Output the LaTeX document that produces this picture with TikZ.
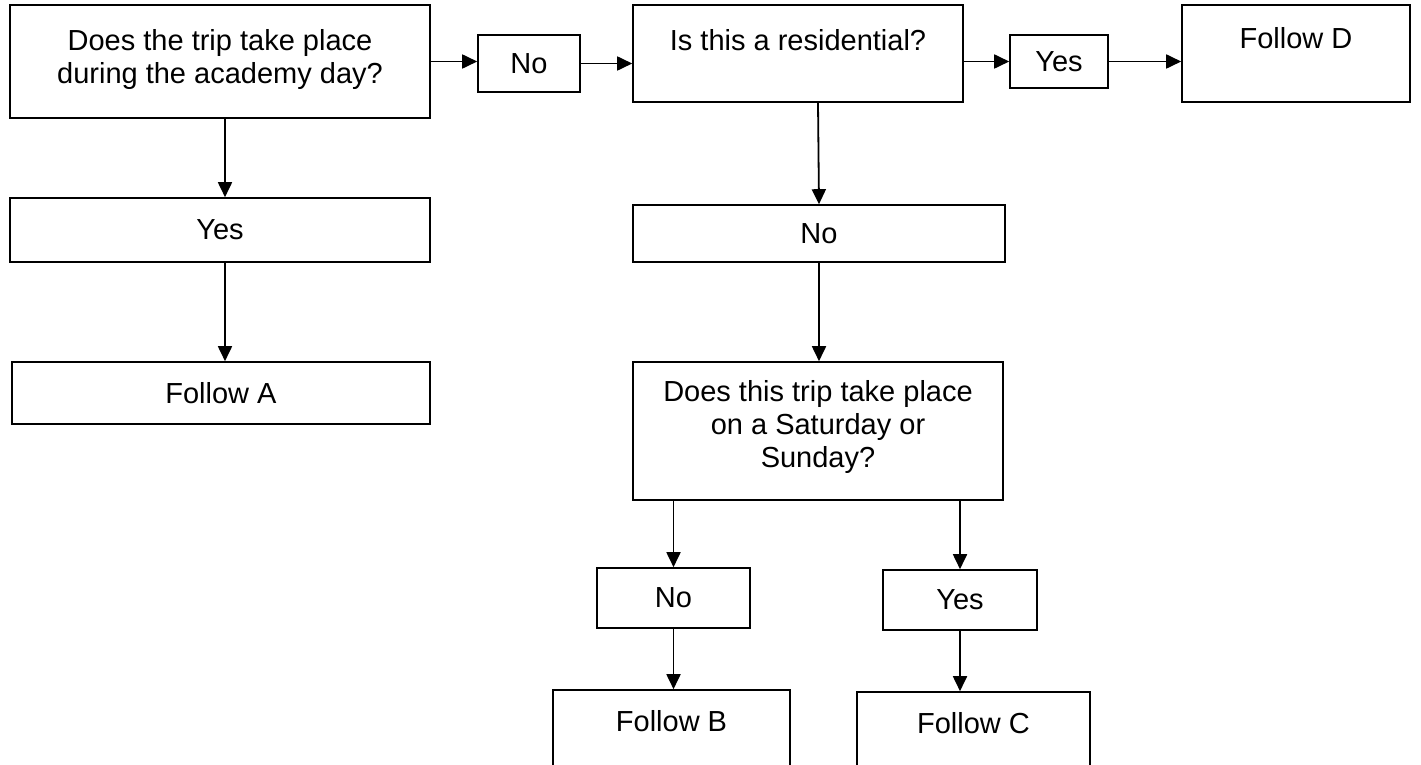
\documentclass[tikz,border=0pt]{standalone}
\usepackage{fontspec}
\setmainfont{Liberation Sans}
\usetikzlibrary{arrows.meta}
\begin{document}
\begin{tikzpicture}[x=1pt,y=-1pt,
  box/.style={draw, line width=1.6pt, inner sep=0pt, align=center, font=\fontsize{29}{33}\selectfont},
  txt/.style={inner sep=0pt, align=center, font=\fontsize{29}{33}\selectfont},
  arr/.style={-{Triangle[length=15pt,width=14pt]}, line width=1.8pt}]
\useasboundingbox (0,0) rectangle (1421,765);
\clip (0,0) rectangle (1421,765);
% top row
\node[box, minimum width=420pt, minimum height=113pt] (q1) at (220,61.5) {};
\node[txt] (q1t) at (220,60) {Does the trip take place\\during the academy day?};
\node[box, minimum width=102pt, minimum height=57pt] (n1) at (529,63.5) {No};
\node[box, minimum width=330pt, minimum height=97pt] (q2) at (798,53.5) {};
\node[txt] (q2t) at (798,40) {Is this a residential?};
\node[box, minimum width=98pt, minimum height=53pt] (y1) at (1059,61.5) {Yes};
\node[box, minimum width=228pt, minimum height=97pt] (fd) at (1296,53.5) {};
\node[txt] (fdt) at (1296,38) {Follow D};
% left column
\node[box, minimum width=420pt, minimum height=64pt] (yl) at (220,230) {Yes};
\node[box, minimum width=418pt, minimum height=62pt] (fa) at (221,393) {Follow A};
% middle column
\node[box, minimum width=372pt, minimum height=57pt] (nm) at (819,233.5) {No};
\node[box, minimum width=370pt, minimum height=138pt] (q3) at (818,431) {};
\node[txt] (q3t) at (818,427) {Does this trip take place\\on a Saturday or\\Sunday?};
\node[box, minimum width=153pt, minimum height=60pt] (nb) at (673.5,598) {No};
\node[box, minimum width=154pt, minimum height=60pt] (yc) at (960,600) {Yes};
\node[box, minimum width=237pt, minimum height=100pt] (fb) at (671.5,740) {};
\node[txt] (fbt) at (671.5,721) {Follow B};
\node[box, minimum width=233pt, minimum height=100pt] (fc) at (973.5,742) {};
\node[txt] (fct) at (973.5,723) {Follow C};
% connectors
\draw[arr] (q1.east) -- (n1.west |- q1.east);
\draw[arr] (n1.east) -- (q2.west |- n1.east);
\draw[arr] (q2.east |- y1.west) -- (y1.west);
\draw[arr] (y1.east) -- (fd.west |- y1.east);
\draw[arr] ([xshift=5pt]q1.south) -- ([xshift=5pt]yl.north);
\draw[arr] ([xshift=5pt]yl.south) -- ([xshift=4pt]fa.north);
\draw[arr] ([xshift=20pt]q2.south) -- (nm.north);
\draw[arr] (nm.south) -- (nm.south |- q3.north);
\draw[arr] (nb.north |- q3.south) -- (nb.north);
\draw[arr] (yc.north |- q3.south) -- (yc.north);
\draw[arr] (nb.south) -- (nb.south |- fb.north);
\draw[arr] (yc.south) -- (yc.south |- fc.north);
\end{tikzpicture}
\end{document}
